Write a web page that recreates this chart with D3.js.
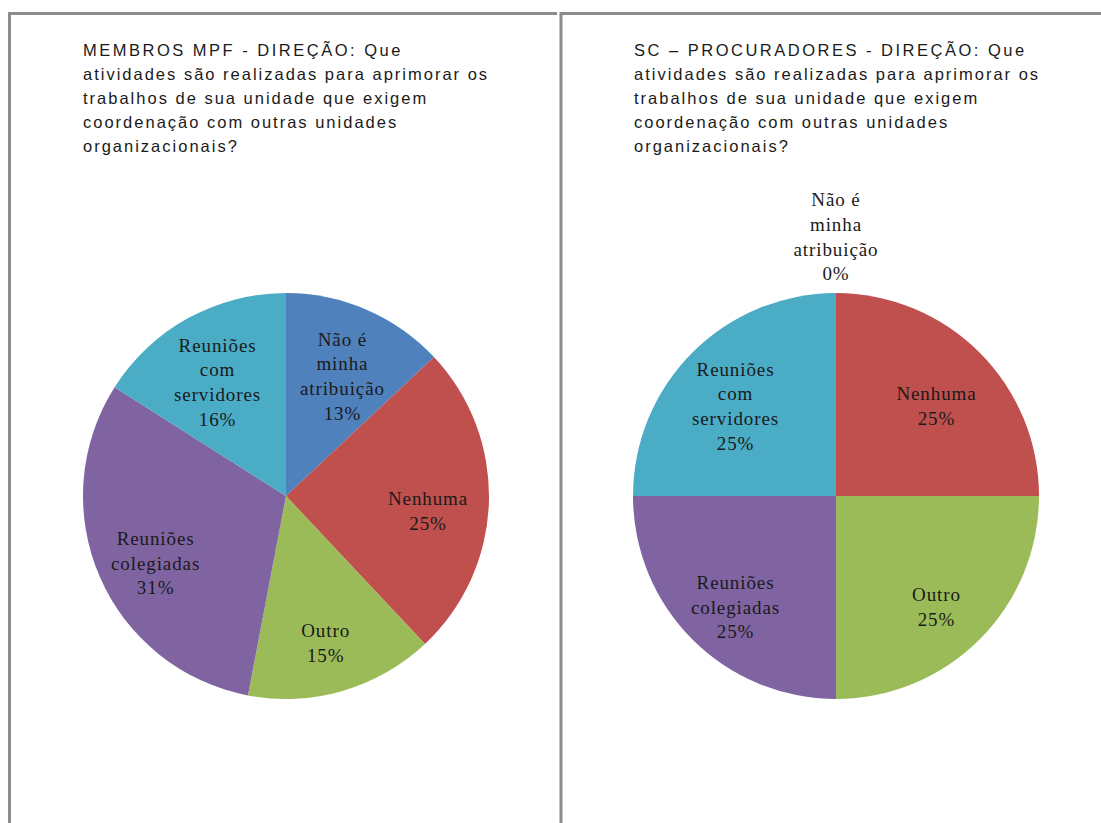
<!DOCTYPE html>
<html>
<head>
<meta charset="utf-8">
<script src="https://cdn.jsdelivr.net/npm/d3@7"></script>
<style>
  html, body { margin: 0; padding: 0; background: #ffffff; }
  svg { display: block; }
</style>
</head>
<body>
<svg id="chart" width="1101" height="823"></svg>
<script>
// Response categories, shared by both charts
const categories = [
  "Não é minha atribuição",
  "Nenhuma",
  "Outro",
  "Reuniões colegiadas",
  "Reuniões com servidores"
];

// Label lines shown inside each slice
const categoryLines = [
  ["Não é", "minha", "atribuição"],
  ["Nenhuma"],
  ["Outro"],
  ["Reuniões", "colegiadas"],
  ["Reuniões", "com", "servidores"]
];

// Shares (%) for each group
const membrosValues = [13, 25, 15, 31, 16];
const procuradoresValues = [0, 25, 25, 25, 25];

// Chart titles, one entry per line
const membrosTitle = [
  "MEMBROS MPF - DIREÇÃO: Que",
  "atividades são realizadas para aprimorar os",
  "trabalhos de sua unidade que exigem",
  "coordenação com outras unidades",
  "organizacionais?"
];
const procuradoresTitle = [
  "SC – PROCURADORES - DIREÇÃO: Que",
  "atividades são realizadas para aprimorar os",
  "trabalhos de sua unidade que exigem",
  "coordenação com outras unidades",
  "organizacionais?"
];

const sliceColors = ["#4F81BD", "#C0504D", "#9BBB59", "#8064A2", "#4BACC6"];

const svg = d3.select("#chart");
const color = d3.scaleOrdinal().domain(categories).range(sliceColors);

// Panel frames
const frame = svg.append("g")
  .attr("fill", "none")
  .attr("stroke", "#8c8c8c")
  .attr("stroke-width", 3);
frame.append("path").attr("d", "M9.5,830 V13.5 H557");
frame.append("path").attr("d", "M561,830 V13.5 H1110");

function drawPanel(opts) {
  const g = svg.append("g");

  // Title
  const title = g.append("text")
    .attr("x", opts.titleX)
    .attr("y", 56)
    .attr("font-family", "'Liberation Sans', Arial, sans-serif")
    .attr("font-size", 16.5)
    .attr("letter-spacing", 2.0)
    .attr("fill", "#1a1a1a");
  title.selectAll("tspan")
    .data(opts.title)
    .join("tspan")
    .attr("x", opts.titleX)
    .attr("dy", (d, i) => i === 0 ? 0 : 24)
    .attr("letter-spacing", (d, i) => i === 0 ? 2.5 : null)
    .text(d => d);

  const radius = 203;
  const pie = d3.pie()
    .sort(null)
    .value(d => d.value)
    .startAngle(0)
    .endAngle(2 * Math.PI);

  const data = categories.map((c, i) => ({ name: c, value: opts.values[i], lines: categoryLines[i] }));
  const arcs = pie(data);

  const arc = d3.arc().innerRadius(0).outerRadius(radius);
  const labelArc = d3.arc().innerRadius(radius * 0.7).outerRadius(radius * 0.7);

  const pieG = g.append("g").attr("transform", `translate(${opts.cx},${opts.cy})`);

  pieG.selectAll("path.slice")
    .data(arcs.filter(a => a.value > 0))
    .join("path")
    .attr("class", "slice")
    .attr("d", arc)
    .attr("fill", d => color(d.data.name));

  // Data labels: category name and percentage, centred on each slice
  const lineH = 24.6;
  pieG.selectAll("text.label")
    .data(arcs)
    .join("text")
    .attr("class", "label")
    .attr("font-family", "'Liberation Serif', 'Times New Roman', serif")
    .attr("font-size", 19)
    .attr("letter-spacing", 0.9)
    .attr("text-anchor", "middle")
    .attr("fill", "#1a1a1a")
    .each(function (d) {
      const lines = d.data.lines.concat([d.data.value + "%"]);
      let x, yc;
      if (d.value > 0) {
        [x, yc] = labelArc.centroid(d);
        yc += 11;
      } else {
        // empty slice: label sits just outside the rim
        const a = d.startAngle;
        const r = radius * 1.275;
        x = Math.sin(a) * r;
        yc = -Math.cos(a) * r;
      }
      const top = yc - (lines.length * lineH) / 2;
      d3.select(this).selectAll("tspan")
        .data(lines)
        .join("tspan")
        .attr("x", x)
        .attr("y", (t, i) => top + (i + 0.75) * lineH)
        .text(t => t);
    });
}

drawPanel({ title: membrosTitle, values: membrosValues, titleX: 83, cx: 286, cy: 496 });
drawPanel({ title: procuradoresTitle, values: procuradoresValues, titleX: 634, cx: 836, cy: 496 });
</script>
</body>
</html>
